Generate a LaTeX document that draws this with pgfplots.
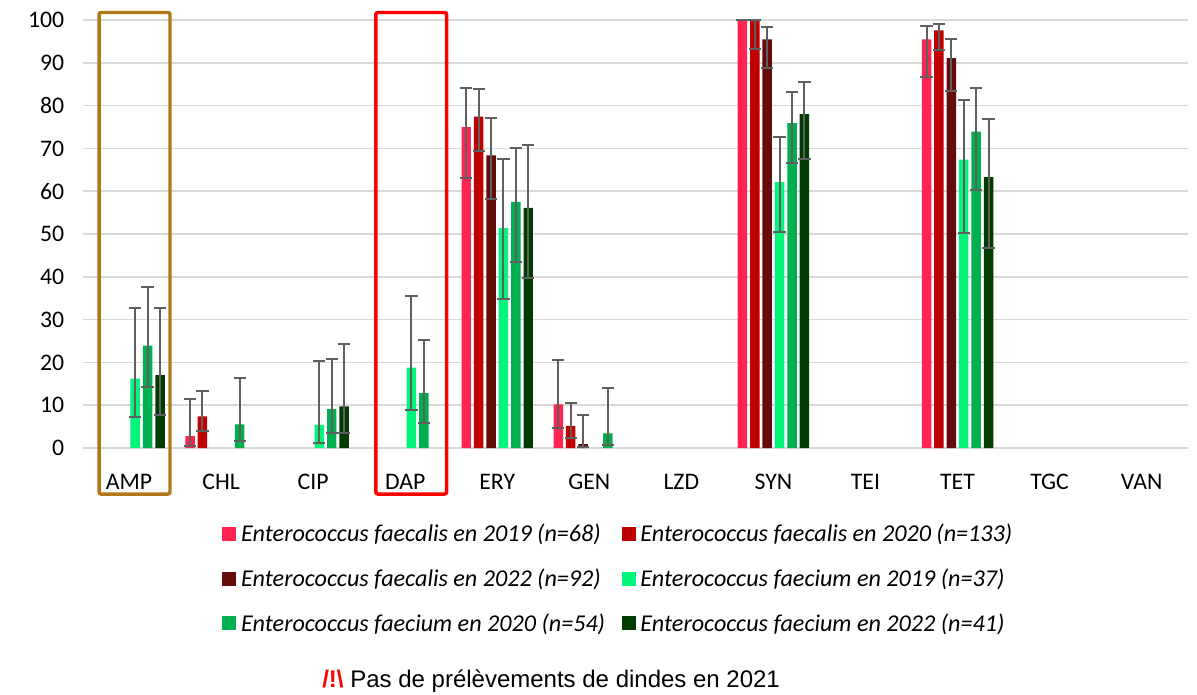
\documentclass[border=0pt]{standalone}
\usepackage{pgfplots}
\pgfplotsset{compat=1.18}
\usepackage{pgfplotstable}
\usepackage{fontspec}
\setmainfont{Carlito}
\newfontfamily\arial{Liberation Sans}

\definecolor{fa19}{HTML}{FF2452}
\definecolor{fa20}{HTML}{C00000}
\definecolor{fa22}{HTML}{640C0C}
\definecolor{fm19}{HTML}{00F57A}
\definecolor{fm20}{HTML}{00B050}
\definecolor{fm22}{HTML}{003C00}
\definecolor{errgray}{HTML}{5F5F5F}
\definecolor{gridgray}{HTML}{D9D9D9}
\definecolor{ampbox}{HTML}{B07818}

% x: 0 AMP,1 CHL,2 CIP,3 DAP,4 ERY,5 GEN,6 LZD,7 SYN,8 TEI,9 TET,10 TGC,11 VAN
\pgfplotstableread{
x y ep em
1 2.8 8.6 2.3
4 75.0 9.1 11.9
5 10.2 10.3 5.5
7 100 0 0
9 95.5 3.1 8.9
}\faA
\pgfplotstableread{
x y ep em
1 7.4 6.0 3.5
4 77.4 6.4 8.0
5 5.2 5.4 2.8
7 100 0 6.7
9 97.6 1.5 4.6
}\faB
\pgfplotstableread{
x y ep em
4 68.4 8.8 10.3
5 0.9 6.8 0.7
7 95.5 2.8 6.8
9 91.1 4.5 7.8
}\faC
\pgfplotstableread{
x y ep em
0 16.2 16.4 9.0
2 5.4 14.9 4.3
3 18.8 16.8 9.9
4 51.4 16.1 16.6
7 62.1 10.5 11.6
9 67.4 13.8 17.1
}\fmA
\pgfplotstableread{
x y ep em
0 23.9 13.8 9.7
1 5.5 10.8 3.8
2 9.1 11.7 5.5
3 12.8 12.4 6.9
4 57.5 12.7 14.1
5 3.4 10.7 2.6
7 75.9 7.3 9.2
9 73.9 10.3 13.6
}\fmB
\pgfplotstableread{
x y ep em
0 17.0 15.7 9.2
2 9.7 14.6 6.3
4 56.1 14.7 16.3
7 78.0 7.4 10.4
9 63.3 13.6 16.5
}\fmC

\begin{document}
\begin{tikzpicture}
\useasboundingbox (-62.25pt,-184.5pt) rectangle (835.5pt,336pt);
\begin{axis}[
  at={(0,0)}, anchor=south west,
  scale only axis, width=828.5pt, height=321pt,
  xmin=-0.5, xmax=11.5, ymin=0, ymax=100,
  ybar=2.2pt, bar width=7.1pt,
  axis line style={draw=none},
  tick style={draw=none},
  xtick={0,...,11},
  xticklabels={AMP,CHL,CIP,DAP,ERY,GEN,LZD,SYN,TEI,TET,TGC,VAN},
  ytick={0,10,...,100},
  ymajorgrids, grid style={gridgray, line width=1.3pt},
  clip=false,
  /pgf/number format/assume math mode=true,
  tick label style={font=\fontsize{17.8}{21}\selectfont, color=black},
  yticklabel style={anchor=east, xshift=-10.6pt},
  xticklabel style={anchor=north, yshift=-11.9pt},
  error bars/y dir=both, error bars/y explicit,
  error bars/error bar style={errgray, line width=1.5pt},
  error bars/error mark options={errgray, rotate=90, mark size=4.6pt, line width=1.5pt},
  legend columns=2,
  legend cell align=left,
  legend image code/.code={\fill[#1,draw=none] (0pt,-5.25pt) rectangle (10.5pt,5.25pt);},
  legend style={at={(axis description cs:0.126,-0.171)}, anchor=north west,
    draw=none, fill=none, inner sep=0pt,
    font=\itshape\fontsize{18.1}{21}\selectfont,
    /tikz/every odd column/.append style={column sep=1.5pt},
    /tikz/every even column/.append style={column sep=10.5pt},
    row sep=14.75pt},
]
\addplot[fill=fa19, draw=none] table[x=x,y=y,y error plus=ep,y error minus=em]{\faA};
\addlegendentry{Enterococcus faecalis en 2019 (n=68)}
\addplot[fill=fa20, draw=none] table[x=x,y=y,y error plus=ep,y error minus=em]{\faB};
\addlegendentry{Enterococcus faecalis en 2020 (n=133)}
\addplot[fill=fa22, draw=none] table[x=x,y=y,y error plus=ep,y error minus=em]{\faC};
\addlegendentry{Enterococcus faecalis en 2022 (n=92)}
\addplot[fill=fm19, draw=none] table[x=x,y=y,y error plus=ep,y error minus=em]{\fmA};
\addlegendentry{Enterococcus faecium en 2019 (n=37)}
\addplot[fill=fm20, draw=none] table[x=x,y=y,y error plus=ep,y error minus=em]{\fmB};
\addlegendentry{Enterococcus faecium en 2020 (n=54)}
\addplot[fill=fm22, draw=none] table[x=x,y=y,y error plus=ep,y error minus=em]{\fmC};
\addlegendentry{Enterococcus faecium en 2022 (n=41)}

\draw[ampbox, line width=2.6pt, rounded corners=1.5pt] (axis cs:-0.326,-10.75) rectangle (axis cs:0.445,101.75);
\draw[red, line width=2.6pt, rounded corners=1.5pt] (axis cs:2.681,-10.75) rectangle (axis cs:3.45,101.75);
\node[anchor=base west, inner sep=0pt, font=\arial\fontsize{18}{21}\selectfont]
  at (rel axis cs:0.2164,-0.5607) {{\color{red}\bfseries/!\textbackslash} Pas de prélèvements de dindes en 2021};
\end{axis}
\end{tikzpicture}
\end{document}
